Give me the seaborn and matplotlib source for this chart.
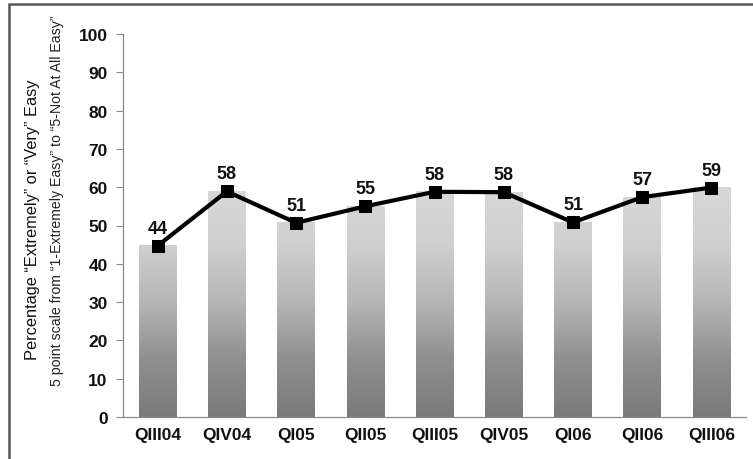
import numpy as np
import pandas as pd
import matplotlib
matplotlib.use("Agg")
import matplotlib.pyplot as plt
import seaborn as sns
from matplotlib.colors import LinearSegmentedColormap
from matplotlib.patches import Rectangle

quarters = ["QIII04", "QIV04", "QI05", "QII05", "QIII05", "QIV05", "QI06", "QII06", "QIII06"]
values = [44.7, 58.9, 50.7, 55.0, 58.8, 58.7, 50.8, 57.4, 59.9]
value_labels = ["44", "58", "51", "55", "58", "58", "51", "57", "59"]
yticks = [0, 10, 20, 30, 40, 50, 60, 70, 80, 90, 100]

df = pd.DataFrame({"quarter": quarters, "value": values})

sns.set_theme(style="white")
plt.rcParams["font.family"] = ["Liberation Sans", "DejaVu Sans"]

fig = plt.figure(figsize=(7.53, 4.60), dpi=100)
ax = fig.add_axes([123/753, 1-418/460, (746-123)/753, (418-35)/460])

sns.barplot(data=df, x="quarter", y="value", color="#bbbbbb", width=0.54, ax=ax, zorder=1)

cmap = LinearSegmentedColormap.from_list("g", ["#7a7a7a", "#8f8f8f", "#b6b6b6", "#cfcfcf", "#d8d8d8"])
for p in list(ax.patches):
    x0 = p.get_x(); w = p.get_width(); h = p.get_height()
    frac = min(h / 60.0, 1.0)
    g = np.linspace(0, frac, 256).reshape(-1, 1)
    ax.imshow(g, extent=(x0, x0 + w, 0, h), origin="lower", cmap=cmap,
              vmin=0, vmax=1, aspect="auto", zorder=1)
    p.set_visible(False)

sns.lineplot(data=df, x="quarter", y="value", color="black", linewidth=3.0,
             marker="s", markersize=8, markeredgecolor="black", ax=ax, zorder=3, sort=False)

for i, (v, lab) in enumerate(zip(values, value_labels)):
    ax.annotate(lab, (i, v), xytext=(0, 6.5), textcoords="offset points",
                ha="center", va="bottom", fontsize=13, fontweight="bold", color="#111111")

ax.set_xlim(-0.5, len(quarters) - 0.5)
ax.set_ylim(0, 100)
ax.set_yticks(yticks)
ax.set_yticklabels([str(t) for t in yticks], fontsize=12.5, fontweight="bold", color="#111111")
ax.set_xticks(range(len(quarters)))
ax.set_xticklabels(quarters, fontsize=12.5, fontweight="bold", color="#111111")
ax.set_xticks(np.arange(-0.5, len(quarters), 1.0), minor=True)
ax.tick_params(axis="x", which="major", length=0, pad=7)
ax.tick_params(axis="x", which="minor", length=5, width=0.8, color="#888888", direction="out")
ax.tick_params(axis="y", which="major", length=5, width=0.8, color="#888888", direction="out", left=True, pad=6)
ax.set_xlabel("")
ax.set_ylabel("")
for s in ["top", "right"]:
    ax.spines[s].set_visible(False)
for s in ["left", "bottom"]:
    ax.spines[s].set_color("#888888")
    ax.spines[s].set_linewidth(0.9)

fig.text(33/753, 1-220/460, "Percentage \u201cExtremely\u201d or \u201cVery\u201d Easy", rotation=90,
         ha="center", va="center", fontsize=11.8, color="#111111")
fig.text(57/753, 1-201/460, "5 point scale from \u201c1-Extremely Easy\u201d to \u201c5-Not At All Easy\u201d",
         rotation=90, ha="center", va="center", fontsize=10.2, color="#222222")

fig.patches.append(Rectangle((9/753, -0.05), 1.1, 1 - 5/460 + 0.05, transform=fig.transFigure,
                             fill=False, edgecolor="#555555", linewidth=1.8))

fig.savefig("out.png", dpi=100)
